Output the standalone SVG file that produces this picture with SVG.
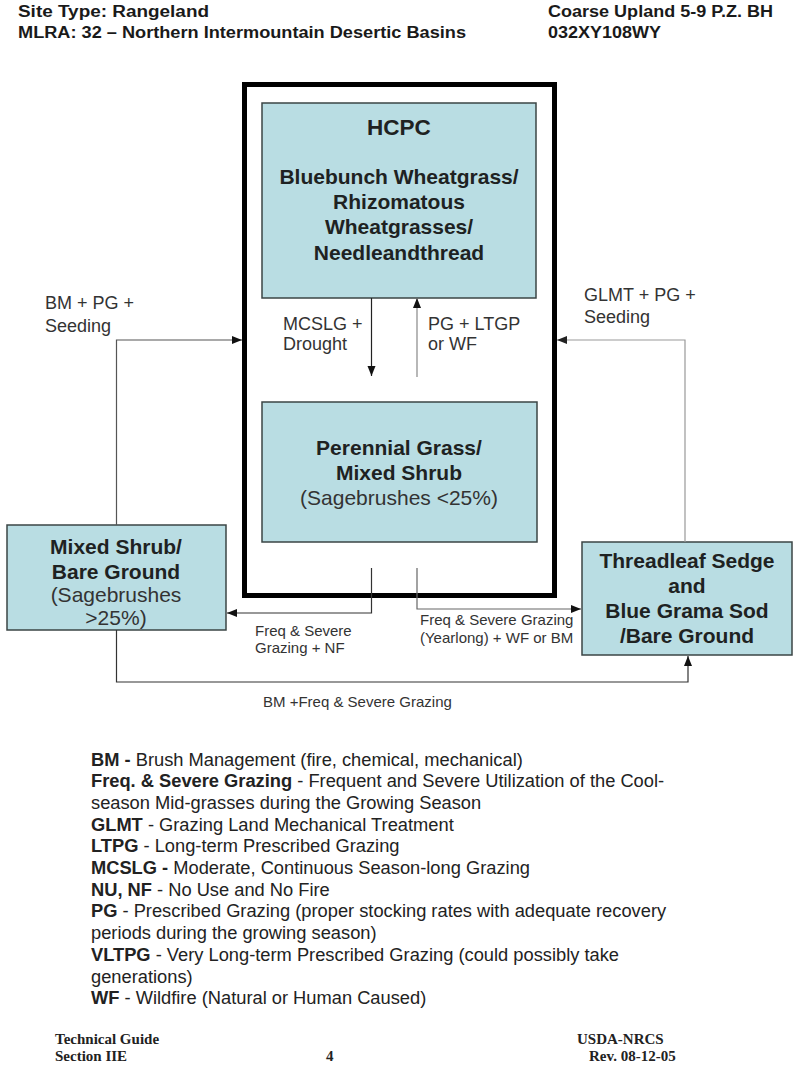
<svg xmlns="http://www.w3.org/2000/svg" width="800" height="1069" viewBox="0 0 800 1069">
<style>
.hdr{font-family:"Liberation Sans",Arial,sans-serif;font-weight:bold;font-size:16px;fill:#1a1a1a}
.box{fill:#b9dde3;stroke:#3b4545;stroke-width:1.5}
.bt{font-family:"Liberation Sans",Arial,sans-serif;font-weight:bold;font-size:21px;fill:#1e2222;text-anchor:middle}
.nt{font-family:"Liberation Sans",Arial,sans-serif;font-size:21px;fill:#333;text-anchor:middle}
.lbl{font-family:"Liberation Sans",Arial,sans-serif;font-size:18px;fill:#333}
.sl{font-family:"Liberation Sans",Arial,sans-serif;font-size:15px;fill:#333}
.leg{font-family:"Liberation Sans",Arial,sans-serif;font-size:18.3px;fill:#222}
.leg tspan.b{font-weight:bold}
.ft{font-family:"Liberation Serif","Times New Roman",serif;font-weight:bold;font-size:15px;fill:#222}
.c{fill:none;stroke-width:1.2}
</style>
<defs>
<marker id="ah" markerUnits="userSpaceOnUse" markerWidth="10" markerHeight="10" viewBox="0 0 10 10" refX="10" refY="5" orient="auto">
<path d="M0,1 L10,5 L0,9 Z" fill="#111"/>
</marker>
<marker id="ahg" markerUnits="userSpaceOnUse" markerWidth="10" markerHeight="10" viewBox="0 0 10 10" refX="10" refY="5" orient="auto">
<path d="M0,1 L10,5 L0,9 Z" fill="#222"/>
</marker>
</defs>
<rect width="800" height="1069" fill="#fff"/>

<g id="header">
<text class="hdr" x="18" y="17" textLength="191" lengthAdjust="spacingAndGlyphs">Site Type:  Rangeland</text>
<text class="hdr" x="18" y="38" textLength="448" lengthAdjust="spacingAndGlyphs">MLRA: 32 – Northern Intermountain Desertic Basins</text>
<text class="hdr" x="548" y="17" textLength="225" lengthAdjust="spacingAndGlyphs">Coarse Upland 5-9 P.Z. BH</text>
<text class="hdr" x="548" y="38" textLength="113" lengthAdjust="spacingAndGlyphs">032XY108WY</text>
</g>

<g id="reference-state">
<rect x="244.5" y="84.5" width="310" height="511" fill="none" stroke="#000" stroke-width="5"/>
</g>

<g id="hcpc">
<rect class="box" x="262" y="103" width="274" height="195"/>
<text class="bt" x="399" y="135" style="font-size:22.5px">HCPC</text>
<text class="bt" x="399" y="184">Bluebunch Wheatgrass/</text>
<text class="bt" x="399" y="209">Rhizomatous</text>
<text class="bt" x="399" y="234">Wheatgrasses/</text>
<text class="bt" x="399" y="259.5">Needleandthread</text>
</g>

<g id="perennial-grass">
<rect class="box" x="262" y="402" width="275" height="140"/>
<text class="bt" x="399" y="455">Perennial Grass/</text>
<text class="bt" x="399" y="480">Mixed Shrub</text>
<text class="nt" x="399" y="504.5">(Sagebrushes &lt;25%)</text>
</g>

<g id="mixed-shrub">
<rect class="box" x="7" y="525" width="219" height="105"/>
<text class="bt" x="116" y="553.5">Mixed Shrub/</text>
<text class="bt" x="116" y="578.5">Bare Ground</text>
<text class="nt" x="116" y="601.5">(Sagebrushes</text>
<text class="nt" x="116" y="624.5">&gt;25%)</text>
</g>

<g id="threadleaf">
<rect class="box" x="582" y="542" width="210" height="113"/>
<text class="bt" x="687" y="567.5">Threadleaf Sedge</text>
<text class="bt" x="687" y="592.5">and</text>
<text class="bt" x="687" y="617.5">Blue Grama Sod</text>
<text class="bt" x="687" y="642.5">/Bare Ground</text>
</g>

<g id="connectors">
<path class="c" d="M371.5,298 V376" stroke="#222" marker-end="url(#ah)"/>
<path class="c" d="M417,377 V298" stroke="#888" marker-end="url(#ah)"/>
<path class="c" d="M116.5,525 V340 H242" stroke="#555" marker-end="url(#ah)"/>
<path class="c" d="M685,542 V340 H557" stroke="#999" marker-end="url(#ahg)"/>
<path class="c" d="M371.5,568 V613 H227" stroke="#333" marker-end="url(#ah)"/>
<path class="c" d="M417,568 V609 H581" stroke="#666" marker-end="url(#ah)"/>
<path class="c" d="M116.5,630 V682 H688 V656" stroke="#333" marker-end="url(#ah)"/>
</g>

<g id="connector-labels">
<text class="lbl" x="283" y="329.5">MCSLG +</text>
<text class="lbl" x="283" y="349.5">Drought</text>
<text class="lbl" x="428" y="329.5">PG + LTGP</text>
<text class="lbl" x="428" y="349.5">or WF</text>
<text class="lbl" x="45" y="308.5">BM + PG +</text>
<text class="lbl" x="45" y="331.5">Seeding</text>
<text class="lbl" x="584" y="300.5">GLMT + PG +</text>
<text class="lbl" x="584" y="322.5">Seeding</text>
<text class="sl" x="255" y="635.5">Freq &amp; Severe</text>
<text class="sl" x="255" y="652.5">Grazing + NF</text>
<text class="sl" x="420" y="624.5">Freq &amp; Severe Grazing</text>
<text class="sl" x="420" y="642.5">(Yearlong) + WF or BM</text>
<text class="sl" x="263" y="707">BM +Freq &amp; Severe Grazing</text>
</g>

<g id="legend">
<text class="leg" x="91" y="765.5"><tspan class="b">BM -</tspan> Brush Management (fire, chemical, mechanical)</text>
<text class="leg" x="91" y="787.2"><tspan class="b">Freq. &amp; Severe Grazing</tspan> - Frequent and Severe Utilization of the Cool-</text>
<text class="leg" x="91" y="808.9">season Mid-grasses during the Growing Season</text>
<text class="leg" x="91" y="830.6"><tspan class="b">GLMT</tspan> - Grazing Land Mechanical Treatment</text>
<text class="leg" x="91" y="852.3"><tspan class="b">LTPG</tspan> - Long-term Prescribed Grazing</text>
<text class="leg" x="91" y="874"><tspan class="b">MCSLG -</tspan> Moderate, Continuous Season-long Grazing</text>
<text class="leg" x="91" y="895.7"><tspan class="b">NU, NF</tspan> - No Use and No Fire</text>
<text class="leg" x="91" y="917.4"><tspan class="b">PG</tspan> - Prescribed Grazing (proper stocking rates with adequate recovery</text>
<text class="leg" x="91" y="939.1">periods during the growing season)</text>
<text class="leg" x="91" y="960.8"><tspan class="b">VLTPG</tspan> - Very Long-term Prescribed Grazing (could possibly take</text>
<text class="leg" x="91" y="982.5">generations)</text>
<text class="leg" x="91" y="1004.2"><tspan class="b">WF</tspan> - Wildfire (Natural or Human Caused)</text>
</g>

<g id="footer">
<text class="ft" x="55" y="1044">Technical Guide</text>
<text class="ft" x="55" y="1061">Section IIE</text>
<text class="ft" x="326" y="1061">4</text>
<text class="ft" x="577" y="1044">USDA-NRCS</text>
<text class="ft" x="589" y="1061">Rev. 08-12-05</text>
</g>
</svg>
